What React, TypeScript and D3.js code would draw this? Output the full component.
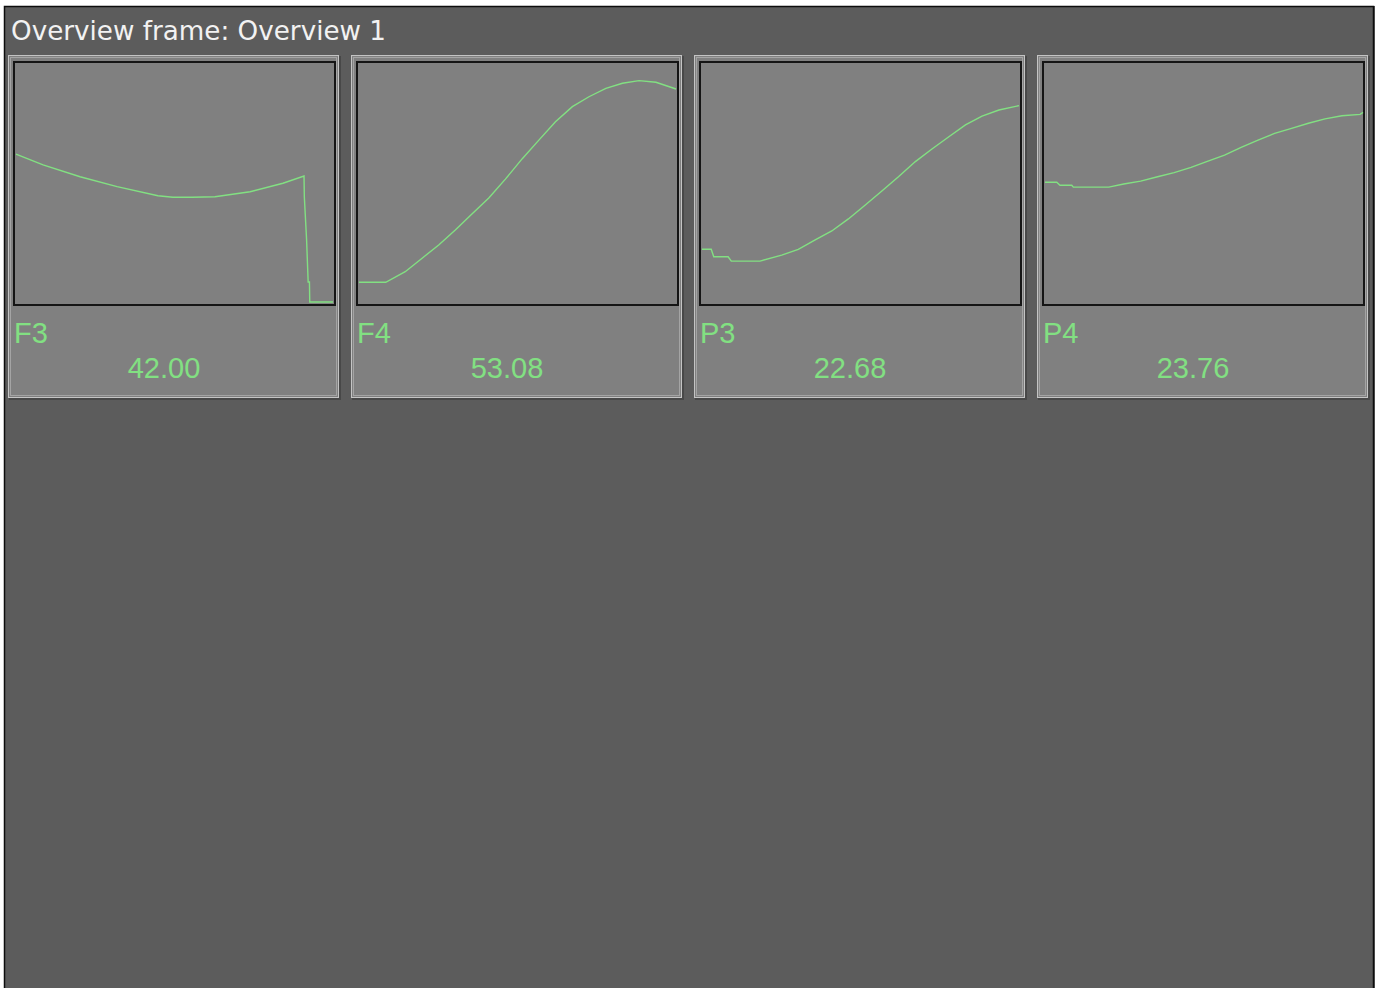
import React from "react";
import * as d3 from "d3";

const titleText = "Overview frame: Overview 1";
const channelNames = ["F3", "F4", "P3", "P4"];
const channelValues = ["42.00", "53.08", "22.68", "23.76"];

// time (0..100 of window) and amplitude (0..100 of plot height)
const f3T = [0.3, 8.8, 20.4, 32.0, 44.8, 49.5, 55.5, 62.7, 73.7, 84.0, 90.6, 90.7, 91.4, 91.9, 92.3, 92.4, 99.7];
const f3V = [62.2, 57.7, 52.8, 48.7, 44.9, 44.3, 44.3, 44.5, 46.6, 50.1, 53.1, 44.4, 27.0, 9.1, 9.1, 0.8, 0.8];

const f4T = [0.3, 8.7, 14.8, 20.0, 25.3, 30.5, 35.8, 41.0, 46.2, 51.5, 56.7, 61.9, 67.2, 72.4, 77.7, 82.9, 88.1, 93.4, 99.7];
const f4V = [9.0, 9.0, 13.4, 18.9, 24.5, 30.7, 37.4, 44.0, 51.8, 60.3, 68.0, 75.6, 81.9, 86.0, 89.5, 91.6, 92.7, 92.0, 89.2];

const p3T = [0.3, 3.2, 4.0, 8.5, 9.5, 18.5, 25.3, 30.5, 35.8, 41.0, 46.2, 51.5, 56.7, 61.9, 67.2, 72.4, 77.7, 82.9, 88.1, 93.4, 99.7];
const p3V = [22.7, 22.7, 19.6, 19.6, 17.8, 17.8, 20.3, 22.7, 26.6, 30.3, 35.3, 41.1, 46.9, 52.8, 59.1, 64.3, 69.4, 74.3, 78.0, 80.5, 82.3];

const p4T = [0.3, 4.0, 5.0, 8.7, 9.2, 20.3, 25.0, 30.3, 35.6, 40.8, 46.1, 51.4, 56.6, 61.8, 67.1, 72.3, 77.6, 82.9, 88.1, 93.4, 99.1, 100];
const p4V = [50.5, 50.5, 49.3, 49.3, 48.5, 48.5, 49.8, 51.0, 52.8, 54.5, 56.7, 59.3, 61.8, 65.0, 68.0, 70.8, 72.9, 75.0, 76.8, 78.1, 78.7, 79.5];

const seriesT = [f3T, f4T, p3T, p4T];
const seriesV = [f3V, f4V, p3V, p4V];

const W = 1381;
const H = 988;
const GREEN = "#82e082";

export default function App() {
  const panelX = d3.range(4).map((i) => 8 + i * 343);
  const panelY = 55;
  const panelW = 331;
  const panelH = 343;

  return (
    <svg
      width={W}
      height={H}
      style={{ position: "absolute", left: 0, top: 0, display: "block" }}
    >
      <rect x={0} y={0} width={W} height={H} fill="#ffffff" />
      <rect x={4} y={6} width={1371} height={H} fill="#5c5c5c" />
      <rect x={4.5} y={6.5} width={1369} height={H} fill="none" stroke="#0d0d0d" strokeWidth={1.5} />
      <text
        x={11}
        y={39.5}
        fill="#f2f2f2"
        fontFamily="DejaVu Sans, Verdana, sans-serif"
        fontSize={27}
        textLength={375}
        lengthAdjust="spacingAndGlyphs"
      >
        {titleText}
      </text>
      {channelNames.map((name, i) => {
        const px = panelX[i];
        const boxX = px + 5;
        const boxY = panelY + 6;
        const boxW = 323;
        const boxH = 245;
        const x = d3.scaleLinear().domain([0, 100]).range([boxX + 2, boxX + 2 + 319]);
        const y = d3.scaleLinear().domain([0, 100]).range([boxY + 243, boxY + 2]);
        const pts = seriesT[i].map((t, k) => [t, seriesV[i][k]] as [number, number]);
        const line = d3
          .line<[number, number]>()
          .x((d) => x(d[0]))
          .y((d) => y(d[1]));
        return (
          <g key={name}>
            <rect x={px + 1} y={panelY + 1} width={panelW + 1} height={panelH + 1} fill="#484848" />
            <rect x={px} y={panelY} width={panelW} height={panelH} fill="#808080" />
            <rect
              x={px + 0.5}
              y={panelY + 0.5}
              width={panelW - 1}
              height={panelH - 1}
              fill="none"
              stroke="#c4c4c4"
              strokeWidth={1}
            />
            <rect
              x={px + 2.5}
              y={panelY + 2.5}
              width={panelW - 5}
              height={panelH - 5}
              fill="none"
              stroke="#a4a4a4"
              strokeWidth={1}
            />
            <rect
              x={boxX + 1}
              y={boxY + 1}
              width={boxW - 2}
              height={boxH - 2}
              fill="#808080"
              stroke="#151515"
              strokeWidth={2}
            />
            <path d={line(pts) || ""} fill="none" stroke={GREEN} strokeWidth={1.4} />
            <text
              x={px + 6}
              y={panelY + 288}
              fill={GREEN}
              fontFamily="Liberation Sans, Arial, sans-serif"
              fontSize={29}
            >
              {name}
            </text>
            <text
              x={px + 156}
              y={panelY + 323}
              fill={GREEN}
              textAnchor="middle"
              fontFamily="Liberation Sans, Arial, sans-serif"
              fontSize={29}
            >
              {channelValues[i]}
            </text>
          </g>
        );
      })}
    </svg>
  );
}
